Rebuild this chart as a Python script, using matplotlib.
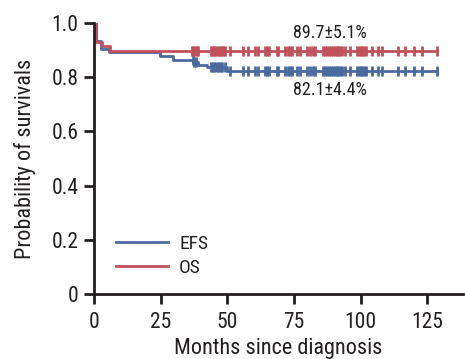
import matplotlib
matplotlib.use("Agg")
import matplotlib.pyplot as plt
import numpy as np

plt.rcParams['font.family'] = ['Roboto Condensed', 'Roboto', 'DejaVu Sans']

# Kaplan-Meier step data (months, survival probability)
os_times = [0, 0.8, 2.9, 6.0, 128.6]
os_surv = [1.0, 0.93, 0.916, 0.897, 0.897]
efs_times = [0, 0.8, 2.5, 5.7, 24.8, 29.8, 37.3, 39.0, 42.3, 49.8, 128.6]
efs_surv = [1.0, 0.934, 0.904, 0.891, 0.877, 0.864, 0.854, 0.846, 0.836, 0.821, 0.821]

# censoring times (months)
os_cens = [36.7, 37.3, 37.9, 38.5, 39.1, 43.8, 44.4, 45.0, 45.6, 46.2, 46.8, 47.4, 48.0, 48.6, 49.2,
           51.0, 55.8, 57.9, 60.4, 61.7, 64.2, 65.0, 65.8, 68.6, 69.2, 71.7, 72.8, 73.5, 74.2,
           76.1, 77.3, 79.8, 81.1, 82.1, 83.0, 86.1, 86.8, 87.5, 88.2, 88.9, 89.6, 90.3, 91.0,
           91.7, 92.4, 93.1, 94.2, 96.1, 98.6, 99.3, 100.0, 100.7, 101.4, 102.1, 104.2, 106.7,
           108.0, 114.2, 116.7, 119.9, 123.0, 128.6]
efs_cens = [37.0, 37.6, 38.2, 44.0, 44.6, 45.2, 45.8, 46.4, 47.0, 47.6, 48.2, 49.0,
            51.0, 55.8, 57.9, 60.4, 61.7, 64.2, 65.0, 65.8, 68.6, 69.2, 71.7, 72.8, 73.5, 74.2,
            76.1, 77.3, 79.8, 81.1, 82.1, 83.0, 86.1, 86.8, 87.5, 88.2, 88.9, 89.6, 90.3, 91.0,
            91.7, 92.4, 93.1, 94.2, 96.1, 98.6, 99.3, 100.0, 100.7, 101.4, 102.1, 104.2, 106.7,
            108.0, 114.2, 116.7, 119.9, 123.0, 128.6]

series_labels = ['EFS', 'OS']
annot_texts = ['89.7\u00b15.1%', '82.1\u00b14.4%']
xticks = [0, 25, 50, 75, 100, 125]
yticks = [0, 0.2, 0.4, 0.6, 0.8, 1.0]
ytick_labels = ['0', '0.2', '0.4', '0.6', '0.8', '1.0']

blue = '#4a6a9e'
red = '#c0505c'
txtc = '#231f20'

def surv_at(times, surv, t):
    idx = np.searchsorted(times, t, side='right') - 1
    return surv[idx]

fig = plt.figure(figsize=(4.65, 3.59), dpi=100)
ax = fig.add_axes([0.202, 0.180, 0.794, 0.7565])

ax.step(efs_times, efs_surv, where='post', color=blue, lw=2, label=series_labels[0])
ax.step(os_times, os_surv, where='post', color=red, lw=2, label=series_labels[1])
ax.plot(efs_cens, [surv_at(efs_times, efs_surv, t) for t in efs_cens], ls='none',
        marker='|', ms=7, mew=2, color=blue)
ax.plot(os_cens, [surv_at(os_times, os_surv, t) for t in os_cens], ls='none',
        marker='|', ms=7, mew=2, color=red)

ax.text(88.6, 0.962, annot_texts[0], ha='center', va='center', fontsize=13, color=txtc)
ax.text(88.6, 0.752, annot_texts[1], ha='center', va='center', fontsize=13, color=txtc)

ax.set_xlim(0, 138.5)
ax.set_ylim(0, 1.0)
ax.set_xticks(xticks)
ax.set_xticklabels([str(x) for x in xticks])
ax.set_yticks(yticks)
ax.set_yticklabels(ytick_labels)
ax.spines['top'].set_visible(False)
ax.spines['right'].set_visible(False)
for s in ['left', 'bottom']:
    ax.spines[s].set_linewidth(2)
    ax.spines[s].set_color(txtc)
ax.tick_params(direction='out', length=7, width=2, labelsize=15.5, colors=txtc, pad=4)
ax.tick_params(axis='x', pad=6)
ax.set_xlabel('Months since diagnosis', fontsize=16, color=txtc, labelpad=3)
ax.set_ylabel('Probability of survivals', fontsize=16, color=txtc, labelpad=11)

leg = ax.legend(loc='lower left', bbox_to_anchor=(0.012, 0.0), frameon=False, fontsize=14,
                handlelength=2.7, handletextpad=0.55, labelspacing=0.3)
for t in leg.get_texts():
    t.set_color(txtc)

fig.savefig('out.png', dpi=100)
